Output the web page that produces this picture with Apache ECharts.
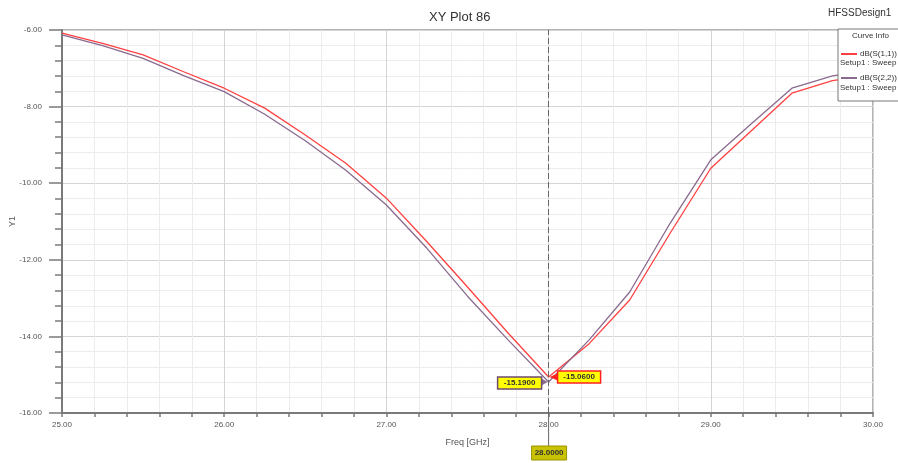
<!DOCTYPE html>
<html>
<head>
<meta charset="utf-8">
<script src="https://cdn.jsdelivr.net/npm/echarts@6/dist/echarts.min.js"></script>
<style>
  html, body { margin: 0; padding: 0; background: #fff; }
  #chart { width: 898px; height: 463px; }
</style>
</head>
<body>
<div id="chart"></div>
<script>
// frequency sweep, GHz
const freq = [25, 25.25, 25.5, 25.75, 26, 26.25, 26.5, 26.75, 27, 27.25, 27.5,
  27.75, 28, 28.25, 28.5, 28.75, 29, 29.25, 29.5, 29.75, 30];
// dB(S(1,1)) - red
const s11 = [-6.08, -6.35, -6.65, -7.09, -7.52, -8.04, -8.74, -9.48, -10.39, -11.53, -12.71,
  -13.91, -15.06, -14.19, -13.05, -11.30, -9.61, -8.63, -7.65, -7.32, -7.17];
// dB(S(2,2)) - purple
const s22 = [-6.13, -6.41, -6.74, -7.19, -7.61, -8.20, -8.89, -9.66, -10.57, -11.70, -12.95,
  -14.09, -15.19, -14.09, -12.84, -11.04, -9.39, -8.45, -7.52, -7.20, -7.04];
const markerFreq = 28;

const RED = "#ff4040";
const PURPLE = "#8a6a8e";
const FONT = "Liberation Sans, Arial, sans-serif";

const chart = echarts.init(document.getElementById("chart"));

const pairs = (ys) => freq.map((f, i) => [f, ys[i]]);

const axisCommon = {
  axisLine: { show: true, onZero: false, lineStyle: { color: "#7a7a7a", width: 2 } },
  axisLabel: { color: "#555", fontSize: 8, fontFamily: FONT, formatter: (v) => v.toFixed(2) },
  splitLine: { show: true, lineStyle: { color: "#d4d4d4", width: 1 } },
  minorSplitLine: { show: true, lineStyle: { color: "#ececec", width: 1 } },
};

chart.setOption({
  animation: false,
  backgroundColor: "#fff",
  title: {
    text: "XY Plot 86",
    left: 424,
    top: 6,
    textStyle: { fontSize: 13, fontWeight: "normal", color: "#333", fontFamily: FONT },
  },
  grid: {
    left: 62, right: 25, top: 30, bottom: 50,
    containLabel: false,
    outerBoundsMode: "none",
    show: true, borderColor: "#9a9a9a", borderWidth: 1.5,
  },
  xAxis: Object.assign({}, axisCommon, {
    type: "value",
    min: 25, max: 30, interval: 1,
    name: "Freq [GHz]",
    nameLocation: "middle",
    nameGap: 25,
    nameMoveOverlap: false,
    nameTextStyle: { fontSize: 9, color: "#555", fontFamily: FONT },
    axisTick: { show: true, length: 4, lineStyle: { color: "#7a7a7a", width: 1.5 } },
    minorTick: { show: true, splitNumber: 5, length: 4, lineStyle: { color: "#7a7a7a", width: 1.5 } },
    axisLabel: Object.assign({}, axisCommon.axisLabel, { margin: 8 }),
  }),
  yAxis: Object.assign({}, axisCommon, {
    type: "value",
    min: -16, max: -6, interval: 2,
    name: "Y1",
    nameLocation: "middle",
    nameGap: 45,
    nameMoveOverlap: false,
    nameTextStyle: { fontSize: 9, color: "#555", fontFamily: FONT },
    axisTick: { show: true, length: 13, lineStyle: { color: "#7a7a7a", width: 1.5 } },
    minorTick: { show: true, splitNumber: 5, length: 7, lineStyle: { color: "#7a7a7a", width: 1.5 } },
    axisLabel: Object.assign({}, axisCommon.axisLabel, { margin: 20 }),
  }),
  series: [
    {
      name: "dB(S(1,1))",
      type: "line",
      data: pairs(s11),
      symbol: "none",
      lineStyle: { color: RED, width: 1.3 },
      markLine: {
        silent: true,
        symbol: "none",
        label: { show: false },
        lineStyle: { color: "#666", type: [6, 3], width: 1 },
        data: [{ xAxis: markerFreq }],
      },
    },
    {
      name: "dB(S(2,2))",
      type: "line",
      data: pairs(s22),
      symbol: "none",
      lineStyle: { color: PURPLE, width: 1.3 },
    },
  ],
});

// markers, x marker label and curve info box
const mi = freq.indexOf(markerFreq);
const p1 = chart.convertToPixel({ gridIndex: 0 }, [markerFreq, s11[mi]]);
const p2 = chart.convertToPixel({ gridIndex: 0 }, [markerFreq, s22[mi]]);
const pb = chart.convertToPixel({ gridIndex: 0 }, [markerFreq, -16]);
const px = pb[0], bottomY = pb[1];

const labelText = { fontSize: 8, fontWeight: "bold", fill: "#333", fontFamily: FONT };

chart.setOption({
  graphic: [
    // x marker drop line and label
    { type: "line", shape: { x1: px, y1: bottomY, x2: px, y2: bottomY + 34 },
      style: { stroke: "#666", lineWidth: 1 }, z: 50 },
    { type: "rect", shape: { x: px - 17, y: bottomY + 33, width: 35, height: 14 },
      style: { fill: "#c8c200", stroke: "#9a9400", lineWidth: 1 }, z: 51 },
    { type: "text", x: px + 0.5, y: bottomY + 40,
      style: Object.assign({ text: markerFreq.toFixed(4), align: "center", verticalAlign: "middle" }, labelText), z: 52 },

    // red marker (S11)
    { type: "polygon", shape: { points: [[p1[0] + 1, p1[1]], [p1[0] + 10, p1[1] - 4], [p1[0] + 10, p1[1] + 4]] },
      style: { fill: "#ff2020" }, z: 50 },
    { type: "rect", shape: { x: p1[0] + 9, y: p1[1] - 6, width: 43, height: 12 },
      style: { fill: "#ffff00", stroke: "#ff2020", lineWidth: 1.5 }, z: 51 },
    { type: "text", x: p1[0] + 30.5, y: p1[1],
      style: Object.assign({ text: s11[mi].toFixed(4), align: "center", verticalAlign: "middle" }, labelText), z: 52 },

    // purple marker (S22)
    { type: "polygon", shape: { points: [[p2[0] - 1, p2[1]], [p2[0] - 8, p2[1] - 4], [p2[0] - 8, p2[1] + 4]] },
      style: { fill: PURPLE }, z: 50 },
    { type: "rect", shape: { x: p2[0] - 51, y: p2[1] - 5, width: 44, height: 12 },
      style: { fill: "#ffff00", stroke: "#6e4a72", lineWidth: 1.5 }, z: 51 },
    { type: "text", x: p2[0] - 29, y: p2[1] + 1,
      style: Object.assign({ text: s22[mi].toFixed(4), align: "center", verticalAlign: "middle" }, labelText), z: 52 },

    // design name
    { type: "text", x: 828, y: 8,
      style: { text: "HFSSDesign1", fontSize: 10, fill: "#333", fontFamily: FONT }, z: 60 },

    // curve info box
    { type: "rect", shape: { x: 838, y: 29, width: 70, height: 72 },
      style: { fill: "#fff", stroke: "#777", lineWidth: 1 }, z: 60 },
    { type: "text", x: 852, y: 32,
      style: { text: "Curve Info", fontSize: 8, fill: "#333", fontFamily: FONT }, z: 61 },
    { type: "line", shape: { x1: 841, y1: 54, x2: 857, y2: 54 },
      style: { stroke: RED, lineWidth: 2 }, z: 61 },
    { type: "text", x: 860, y: 50,
      style: { text: "dB(S(1,1))", fontSize: 8, fill: "#333", fontFamily: FONT }, z: 61 },
    { type: "text", x: 840, y: 59,
      style: { text: "Setup1 : Sweep", fontSize: 8, fill: "#333", fontFamily: FONT }, z: 61 },
    { type: "line", shape: { x1: 841, y1: 78, x2: 857, y2: 78 },
      style: { stroke: PURPLE, lineWidth: 2 }, z: 61 },
    { type: "text", x: 860, y: 74,
      style: { text: "dB(S(2,2))", fontSize: 8, fill: "#333", fontFamily: FONT }, z: 61 },
    { type: "text", x: 840, y: 84,
      style: { text: "Setup1 : Sweep", fontSize: 8, fill: "#333", fontFamily: FONT }, z: 61 },
  ],
});
</script>
</body>
</html>
